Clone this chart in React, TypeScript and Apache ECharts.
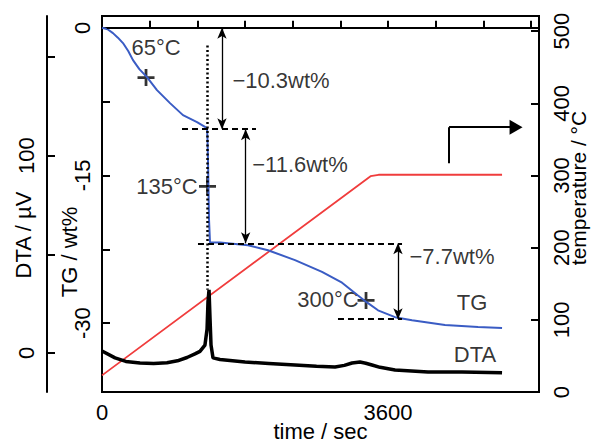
import React, { useEffect, useRef } from "react";
import * as echarts from "echarts";

// ---- data ----
const tgTime = [0, 70, 138, 200, 264, 330, 390, 470, 566, 692, 856, 1019, 1196, 1322, 1328, 1334, 1340, 1347, 1359, 1485, 1838, 2089, 2429, 2769, 3021, 3222, 3335, 3474, 3688, 3902, 4317, 4733, 5035];
const tgWt = [0, -0.15, -0.54, -1.0, -1.55, -2.35, -3.28, -4.2, -5.01, -6.33, -7.65, -8.87, -9.58, -10.19, -11.4, -13.4, -16.2, -19.5, -21.8, -21.8, -22.1, -22.6, -23.6, -24.8, -25.9, -27.2, -27.9, -28.7, -29.4, -29.7, -30.2, -30.4, -30.5];

const dtaTime = [0, 164, 300, 478, 650, 818, 950, 1070, 1170, 1233, 1296, 1322, 1334, 1347, 1359, 1372, 1397, 1485, 1800, 2100, 2429, 2700, 2933, 3050, 3147, 3247, 3320, 3398, 3500, 3688, 4103, 4531, 5035];
const dtaUV = [1.0, -2.5, -4.3, -5.1, -5.3, -5.0, -4.0, -2.3, -0.5, 0.8, 4.0, 12, 26, 32, 18, 4, -2.5, -3.3, -4.6, -5.3, -6.1, -6.8, -7.1, -6.3, -5.1, -4.6, -5.2, -6.1, -7.3, -8.6, -9.6, -9.6, -10.1];

const tempTime = [0, 3380, 3480, 5035];
const tempC = [23, 299, 301, 301];

const xTicks = [0, 600, 1200, 1800, 2400, 3000, 3600, 4200, 4800, 5400];
const xLabels = [0, 3600];
const tgTicks = [0, -7.5, -15, -22.5, -30];
const tgLabels = [0, -15, -30];
const dtaTicks = [0, 50, 100, 150];
const dtaLabels = [0, 100];
const tempTicks = [0, 100, 200, 300, 400, 500];

// step levels (wt%) and their annotation
const stepLevels = [0, -10.3, -21.9, -29.6];
const stepTexts = ["−10.3wt%", "−11.6wt%", "−7.7wt%"];
// dashed level lines: [tStart, tEnd, levelIndex]
const dashSegments = [
  [60, 1699, 0],
  [1007, 1938, 1],
  [1208, 3776, 2],
  [2970, 3776, 3],
];
// double arrows: [t, fromLevelIndex, toLevelIndex]
const arrowSegments = [
  [1510, 0, 1],
  [1808, 1, 2],
  [3725, 2, 3],
];
// dotted vertical marker: t, wtTop, wtBottom
const dotted = [1322, -1.8, -26.6];

// "+" markers [t, wt]
const plusMarks = [
  [554, -5.06],
  [1328, -16.1],
  [3323, -27.7],
];
// text annotations [text, t, wt]
const annotations: [string, number, number][] = [
  ["65°C", 680, -1.96],
  ["135°C", 818, -16.08],
  ["300°C", 2845, -27.57],
  [stepTexts[0], 2253, -5.31],
  [stepTexts[1], 2492, -13.85],
  [stepTexts[2], 4405, -23.2],
  ["TG", 4657, -27.9],
  ["DTA", 4695, -33.15],
];
// heating-direction arrow (temperature axis)
const headArrow = { t0: 4368, tipT: 5211, low: 317, high: 367 };

const FONT = "Liberation Sans";

export default function App() {
  const ref = useRef<HTMLDivElement>(null);
  useEffect(() => {
    if (!ref.current) return;
    const chart = echarts.init(ref.current, undefined, { renderer: "svg" });
    const axisLineStyle = { color: "#000", width: 2 };
    const labelBase = { fontSize: 22, color: "#000", fontFamily: FONT };
    const plain = (v: number) => String(v);
    const nameText = (text: string, x: number, y: number, size: number, rot: number) => ({
      type: "text",
      x,
      y,
      rotation: rot,
      style: { text, font: `${size}px "${FONT}"`, fill: "#000", align: "center", verticalAlign: "middle" },
    });

    const option: any = {
      animation: false,
      textStyle: { fontFamily: FONT },
      grid: {
        left: 102,
        top: 16,
        width: 437,
        height: 376,
        show: true,
        borderColor: "#000",
        borderWidth: 2,
        backgroundColor: "transparent",
        containLabel: false,
        outerBoundsMode: "none",
      },
      xAxis: {
        type: "value",
        min: 0,
        max: 5500,
        axisLine: { lineStyle: axisLineStyle },
        axisTick: { inside: true, length: 7, customValues: xTicks, lineStyle: axisLineStyle },
        axisLabel: { ...labelBase, customValues: xLabels, margin: 9, formatter: plain },
        splitLine: { show: false },
      },
      yAxis: [
        {
          type: "value",
          position: "left",
          min: -37,
          max: 1.2,
          axisLine: { show: true, lineStyle: axisLineStyle },
          axisTick: { show: true, inside: true, length: 8, customValues: tgTicks, lineStyle: axisLineStyle },
          axisLabel: { ...labelBase, customValues: tgLabels, rotate: 90, margin: 9, formatter: plain },
          splitLine: { show: false },
        },
        {
          type: "value",
          position: "left",
          offset: 55,
          min: -19.8,
          max: 170.8,
          axisLine: { show: true, lineStyle: axisLineStyle },
          axisTick: { show: true, inside: true, length: 8, customValues: dtaTicks, lineStyle: axisLineStyle },
          axisLabel: { ...labelBase, customValues: dtaLabels, rotate: 90, margin: 10, formatter: plain },
          splitLine: { show: false },
        },
        {
          type: "value",
          position: "right",
          min: 0,
          max: 521,
          axisLine: { show: true, lineStyle: axisLineStyle },
          axisTick: { show: true, inside: true, length: 8, customValues: tempTicks, lineStyle: axisLineStyle },
          axisLabel: { ...labelBase, customValues: tempTicks, rotate: 90, margin: 11, formatter: plain },
          splitLine: { show: false },
        },
      ],
      graphic: [
        nameText("time / sec", 320.5, 431, 22, 0),
        nameText("DTA / µV", 23.5, 235, 22, Math.PI / 2),
        nameText("TG / wt%", 69, 252, 22, Math.PI / 2),
        nameText("temperature / °C", 578, 188, 21, Math.PI / 2),
      ],
      series: [
        {
          type: "line",
          name: "temperature",
          yAxisIndex: 2,
          data: tempTime.map((t, i) => [t, tempC[i]]),
          symbol: "none",
          lineStyle: { color: "#f03c3c", width: 1.8 },
          silent: true,
          markLine: {
            silent: true,
            symbol: ["none", "triangle"],
            symbolSize: [15, 13],
            label: { show: false },
            lineStyle: { color: "#000", width: 2, type: "solid" },
            data: [
              [
                { coord: [headArrow.t0, headArrow.low], symbol: "none" },
                { coord: [headArrow.t0, headArrow.high], symbol: "none" },
              ],
              [
                { coord: [headArrow.t0, headArrow.high], symbol: "none" },
                { coord: [headArrow.tipT, headArrow.high], symbol: "triangle" },
              ],
            ],
          },
        },
        {
          type: "line",
          name: "TG",
          yAxisIndex: 0,
          data: tgTime.map((t, i) => [t, tgWt[i]]),
          symbol: "none",
          lineStyle: { color: "#3a5cc4", width: 2 },
          silent: true,
          markLine: {
            silent: true,
            symbol: ["none", "none"],
            label: { show: false },
            lineStyle: { color: "#000", width: 1.8, type: [6, 4] },
            data: dashSegments.map(([a, b, li]) => [
              { coord: [a, stepLevels[li]] },
              { coord: [b, stepLevels[li]] },
            ]),
          },
        },
        {
          type: "line",
          name: "DTA",
          yAxisIndex: 1,
          data: dtaTime.map((t, i) => [t, dtaUV[i]]),
          symbol: "none",
          lineStyle: { color: "#000", width: 3.5 },
          silent: true,
        },
        {
          type: "scatter",
          name: "marks",
          yAxisIndex: 0,
          data: plusMarks,
          symbol: "path://M6.7,0H9.3V6.7H16V9.3H9.3V16H6.7V9.3H0V6.7H6.7Z",
          symbolSize: 17,
          itemStyle: { color: "#000" },
          silent: true,
          markLine: {
            silent: true,
            symbol: ["arrow", "arrow"],
            symbolSize: [7, 11],
            label: { show: false },
            lineStyle: { color: "#000", width: 1.3, type: "solid" },
            data: [
              ...arrowSegments.map(([t, a, b]) => [
                { coord: [t, stepLevels[a]] },
                { coord: [t, stepLevels[b]] },
              ]),
              [
                { coord: [dotted[0], dotted[1]], symbol: "none", lineStyle: { type: [2, 2.5], width: 2.5 } },
                { coord: [dotted[0], dotted[2]], symbol: "none" },
              ],
            ],
          },
        },
        {
          type: "scatter",
          name: "labels",
          yAxisIndex: 0,
          data: annotations.map(([text, t, wt]) => ({ name: text, value: [t, wt] })),
          symbolSize: 1,
          itemStyle: { color: "transparent" },
          silent: true,
          label: {
            show: true,
            position: "inside",
            formatter: "{b}",
            fontSize: 22,
            color: "#000",
            textBorderWidth: 0,
            fontFamily: FONT,
          },
        },
      ],
    };
    chart.setOption(option);
    return () => chart.dispose();
  }, []);
  return <div ref={ref} style={{ position: "fixed", left: 0, top: 0, width: 594, height: 446, background: "#fff" }} />;
}
